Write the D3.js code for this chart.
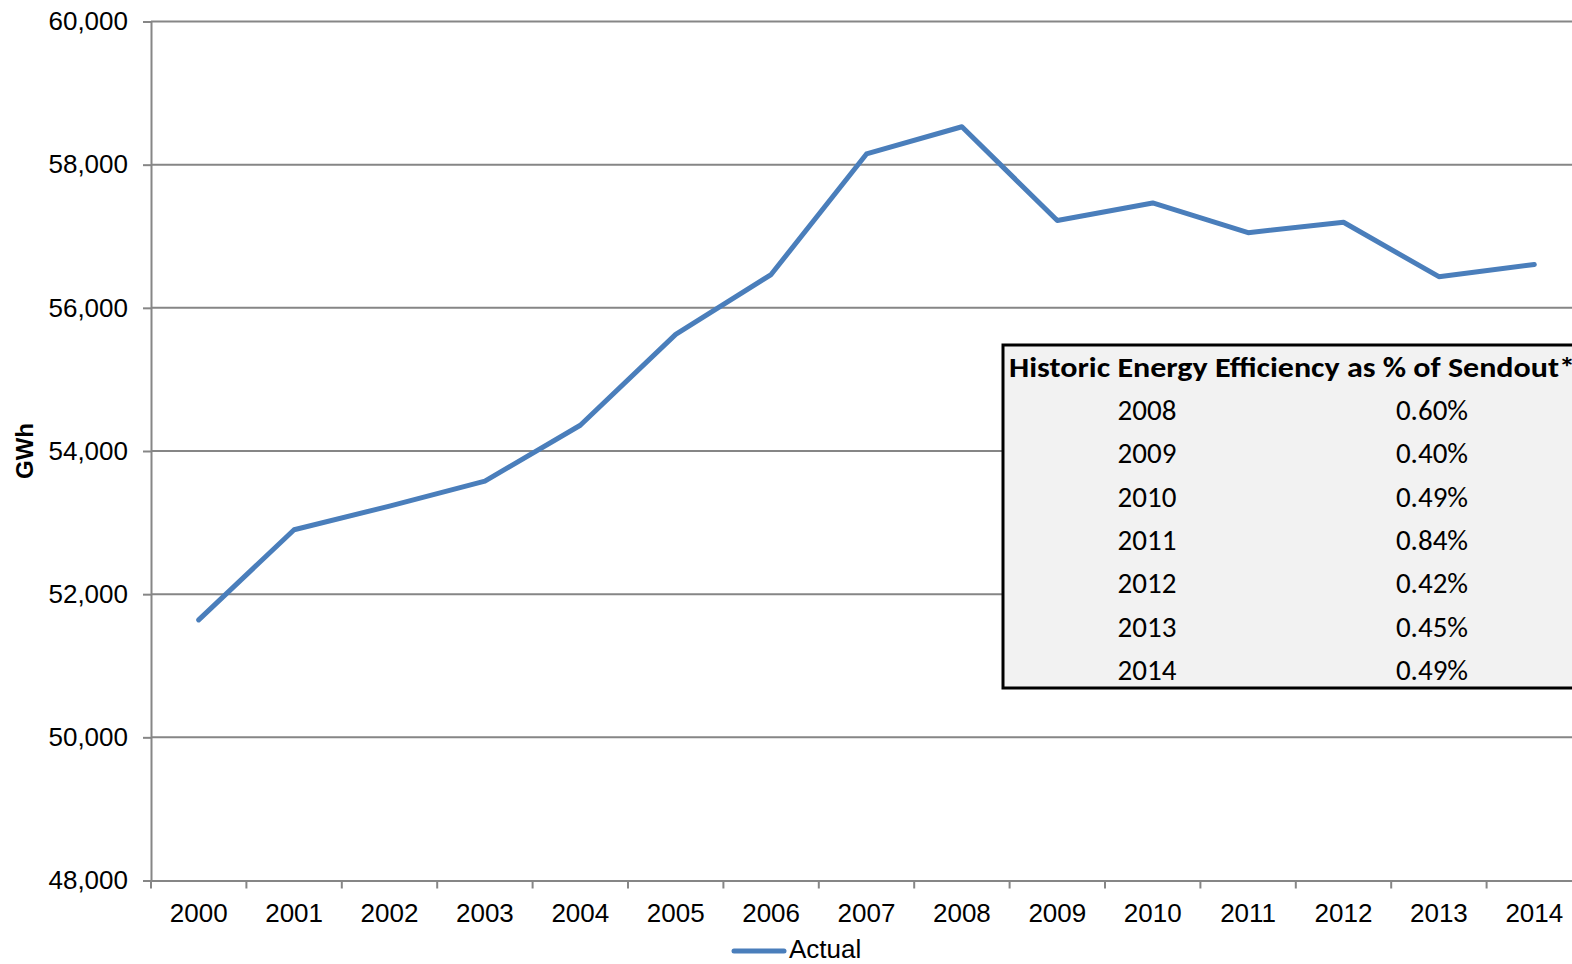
<!DOCTYPE html>
<html>
<head>
<meta charset="utf-8">
<script src="https://cdn.jsdelivr.net/npm/d3@7"></script>
<style>
  body { margin: 0; background: #fff; }
  svg { display: block; }
  .axis text { font-family: "Liberation Sans", Arial, sans-serif; font-size: 26px; fill: #000; }
  .axis path, .axis line { stroke: #868686; stroke-width: 2; }
</style>
</head>
<body>
<div id="graph"></div>
<script>
// datos del grafico
let years = ["2000","2001","2002","2003","2004","2005","2006","2007","2008","2009","2010","2011","2012","2013","2014"];
let actual = [51640, 52900, 53230, 53580, 54360, 55630, 56465, 58150, 58530, 57220, 57465, 57050, 57195, 56435, 56605];
let yTicks = [48000, 50000, 52000, 54000, 56000, 58000, 60000];

// tabla de eficiencia
let eeYears = ["2008","2009","2010","2011","2012","2013","2014"];
let eePct = ["0.60%","0.40%","0.49%","0.84%","0.42%","0.45%","0.49%"];

var svgWidth = 1572;
var svgHeight = 964;

var margin = { top: 21.5, right: -10, bottom: 83.5, left: 151 };
var chartWidth = svgWidth - margin.left - margin.right;
var chartHeight = svgHeight - margin.top - margin.bottom;

var svg = d3.select("#graph")
  .append("svg")
  .attr("width", svgWidth)
  .attr("height", svgHeight);

var chartGroup = svg.append("g")
  .attr("transform", `translate(${margin.left}, ${margin.top})`);

var xScale = d3.scaleBand()
  .domain(years)
  .range([0, chartWidth])
  .padding(0);

var yScale = d3.scaleLinear()
  .domain([48000, 60000])
  .range([chartHeight, 0]);

// lineas de la grilla
chartGroup.append("g")
  .selectAll("line")
  .data(yTicks.filter(d => d > 48000))
  .join("line")
  .attr("x1", 0)
  .attr("x2", chartWidth)
  .attr("y1", d => yScale(d))
  .attr("y2", d => yScale(d))
  .attr("stroke", "#868686")
  .attr("stroke-width", 2);

// eje Y
var leftAxis = d3.axisLeft(yScale)
  .tickValues(yTicks)
  .tickFormat(d3.format(","))
  .tickSize(8)
  .tickSizeOuter(0)
  .tickPadding(15);

chartGroup.append("g")
  .classed("axis", true)
  .call(leftAxis);

// eje X
var bottomAxis = d3.axisBottom(xScale)
  .tickSize(0)
  .tickPadding(23);

var xAxisG = chartGroup.append("g")
  .classed("axis", true)
  .attr("transform", `translate(0, ${chartHeight})`)
  .call(bottomAxis);

// marcas entre categorias
xAxisG.selectAll(".sep")
  .data(years)
  .join("line")
  .attr("class", "sep")
  .attr("x1", d => xScale(d))
  .attr("x2", d => xScale(d))
  .attr("y1", 0)
  .attr("y2", 8);

// linea Actual
var drawLine = d3.line()
  .x((d, i) => xScale(years[i]) + xScale.bandwidth() / 2)
  .y(d => yScale(d));

chartGroup.append("path")
  .attr("d", drawLine(actual))
  .attr("fill", "none")
  .attr("stroke", "#4a7ebb")
  .attr("stroke-width", 5)
  .attr("stroke-linejoin", "round")
  .attr("stroke-linecap", "round");

// titulo eje Y
svg.append("text")
  .attr("transform", "translate(33, 451) rotate(-90)")
  .attr("text-anchor", "middle")
  .style("font-family", "'Liberation Sans', Arial, sans-serif")
  .style("font-weight", "bold")
  .style("font-size", "24px")
  .text("GWh");

// leyenda
svg.append("line")
  .attr("x1", 734).attr("x2", 784)
  .attr("y1", 951).attr("y2", 951)
  .attr("stroke", "#4a7ebb")
  .attr("stroke-width", 5)
  .attr("stroke-linecap", "round");

svg.append("text")
  .attr("x", 789)
  .attr("y", 958)
  .style("font-family", "'Liberation Sans', Arial, sans-serif")
  .style("font-size", "26px")
  .text("Actual");

// TABLA
var tabla = svg.append("g");
var rowScale = d3.scalePoint()
  .domain(eeYears)
  .range([410, 670]);

tabla.append("rect")
  .attr("x", 1003)
  .attr("y", 345)
  .attr("width", 600)
  .attr("height", 343)
  .attr("fill", "#f2f2f2")
  .attr("stroke", "#000")
  .attr("stroke-width", 3);

tabla.append("text")
  .attr("x", 1009)
  .attr("y", 377)
  .attr("textLength", 566)
  .attr("lengthAdjust", "spacingAndGlyphs")
  .style("font-family", "Carlito, Lato, sans-serif")
  .style("font-weight", "bold")
  .style("font-size", "29px")
  .text("Historic Energy Efficiency as % of Sendout*");

tabla.selectAll(".anio")
  .data(eeYears)
  .join("text")
  .attr("class", "anio")
  .attr("x", 1147)
  .attr("y", d => rowScale(d))
  .attr("dy", "0.35em")
  .attr("text-anchor", "middle")
  .style("font-family", "Carlito, Lato, sans-serif")
  .style("font-size", "29px")
  .text(d => d);

tabla.selectAll(".pct")
  .data(eePct)
  .join("text")
  .attr("class", "pct")
  .attr("x", 1432)
  .attr("y", (d, i) => rowScale(eeYears[i]))
  .attr("dy", "0.35em")
  .attr("text-anchor", "middle")
  .style("font-family", "Carlito, Lato, sans-serif")
  .style("font-size", "29px")
  .text(d => d);
</script>
</body>
</html>
